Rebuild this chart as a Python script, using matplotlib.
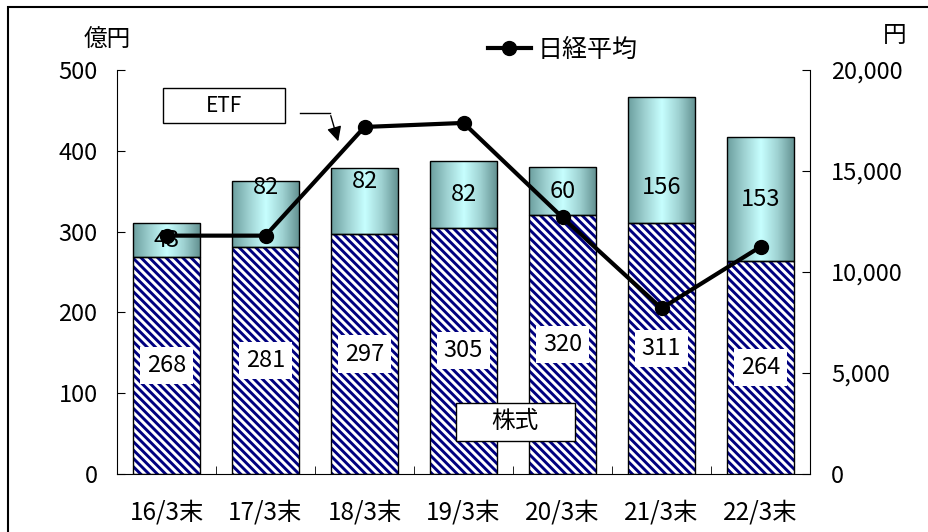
import numpy as np
import matplotlib
matplotlib.use("Agg")
import matplotlib.pyplot as plt
from matplotlib.patches import Rectangle, FancyArrowPatch
from matplotlib.lines import Line2D

plt.rcParams['font.family'] = ['Noto Sans CJK JP', 'DejaVu Sans']
plt.rcParams['hatch.linewidth'] = 2.1

# data
categories = ['16/3末', '17/3末', '18/3末', '19/3末', '20/3末', '21/3末', '22/3末']
stocks = [268, 281, 297, 305, 320, 311, 264]
etf = [43, 82, 82, 82, 60, 156, 153]
nikkei = [11800, 11800, 17180, 17380, 12700, 8200, 11250]
# where the ETF value labels sit (data units, left axis)
etf_label_y = [289, 354, 362, 346, 350, 354, 340]

W, H = 929, 532
fig = plt.figure(figsize=(W / 100, H / 100), dpi=100)
ax = fig.add_axes([117 / W, 1 - 474 / H, (810 - 117) / W, (474 - 70) / H])
ax2 = ax.twinx()

x = np.arange(len(categories))
bw = 0.68

# stock part: white with navy diagonal hatch
ax.bar(x, stocks, width=bw, color='white', edgecolor='#000080',
       hatch='\\\\\\\\', linewidth=0, zorder=2)
ax.bar(x, stocks, width=bw, fill=False, edgecolor='black', linewidth=1, zorder=3)

# ETF part: horizontal teal gradient
grad = np.array([
    [0.42, 0.62, 0.62],
    [0.62, 0.82, 0.82],
    [0.78, 1.00, 1.00],
    [0.62, 0.82, 0.82],
    [0.38, 0.56, 0.56],
])
xs = np.linspace(0, 1, 200)
img = np.stack([np.interp(xs, np.linspace(0, 1, len(grad)), grad[:, k]) for k in range(3)], axis=-1)
img = img[np.newaxis, :, :]
etf_bars = ax.bar(x, etf, bottom=stocks, width=bw, color='none',
                  edgecolor='black', linewidth=1, zorder=3)
for b in etf_bars:
    bx, by = b.get_x(), b.get_y()
    im = ax.imshow(img, extent=[bx, bx + b.get_width(), by, by + b.get_height()],
                   aspect='auto', zorder=2)
    im.set_clip_path(b)

# value labels
for i in range(len(x)):
    ax.text(x[i], stocks[i] / 2, str(stocks[i]), ha='center', va='center',
            fontsize=17, zorder=5,
            bbox=dict(facecolor='white', edgecolor='none', boxstyle='square,pad=0.3'))
    ax.text(x[i], etf_label_y[i], str(etf[i]), ha='center', va='center',
            fontsize=17, zorder=4)

ax.set_xlim(-0.5, len(x) - 0.5)
ax.set_ylim(0, 500)
ax.set_yticks([0, 100, 200, 300, 400, 500])
ax.set_xticks(x)
ax.set_xticklabels(categories, fontsize=17.5)
ax.set_xticks(np.arange(0.5, len(x) - 0.5), minor=True)
ax.tick_params(axis='x', which='major', length=0, pad=18)
ax.tick_params(axis='x', which='minor', direction='in', length=6)
ax.tick_params(axis='y', direction='in', length=6, labelsize=17, pad=14)
for s in ['top', 'right']:
    ax.spines[s].set_visible(False)

# Nikkei line on the right axis (drawn on top of the bars)
ax2.plot(x, nikkei, color='black', linewidth=3, marker='o', markersize=10, zorder=6)
ax2.set_ylim(0, 20000)
ax2.set_yticks([0, 5000, 10000, 15000, 20000])
ax2.set_yticklabels(['0', '5,000', '10,000', '15,000', '20,000'])
ax2.tick_params(axis='y', direction='in', length=6, labelsize=17, pad=15)
for s in ['top', 'left', 'bottom']:
    ax2.spines[s].set_visible(False)

# unit labels
fig.text(107 / W, 1 - 40 / H, '億円', fontsize=17, ha='center', va='center')
fig.text(895 / W, 1 - 35 / H, '円', fontsize=17, ha='center', va='center')

# legend
fig.legend(handles=[Line2D([], [], color='black', linewidth=3, marker='o', markersize=10)],
           labels=['日経平均'], loc='center', bbox_to_anchor=(563 / W, 1 - 50 / H),
           frameon=False, fontsize=18, handlelength=1.7, handletextpad=0.3)

# series callout boxes
fig.add_artist(Rectangle((163 / W, 1 - 123 / H), 122 / W, 35 / H, transform=fig.transFigure,
                         facecolor='white', edgecolor='black', linewidth=1))
fig.text(224 / W, 1 - 106 / H, 'ETF', fontsize=15, ha='center', va='center')
fig.add_artist(Rectangle((456 / W, 1 - 441 / H), 119 / W, 38 / H, transform=fig.transFigure,
                         facecolor='white', edgecolor='black', linewidth=1, zorder=5))
fig.text(515 / W, 1 - 422 / H, '株式', fontsize=17, ha='center', va='center', zorder=6)

# arrow from ETF box
fig.add_artist(Line2D([300 / W, 330 / W], [1 - 113 / H, 1 - 113 / H], color='black', linewidth=1))
fig.add_artist(FancyArrowPatch(
    (330 / W, 1 - 113 / H), (339 / W, 1 - 144 / H), transform=fig.transFigure,
    arrowstyle='-|>', mutation_scale=22, color='black', linewidth=1))

# outer frame
fig.add_artist(Rectangle((8 / W, -0.1), 1.2, 1 - 7 / H + 0.1, transform=fig.transFigure,
                         fill=False, edgecolor='black', linewidth=1.5))

fig.savefig('out.png', dpi=100)
